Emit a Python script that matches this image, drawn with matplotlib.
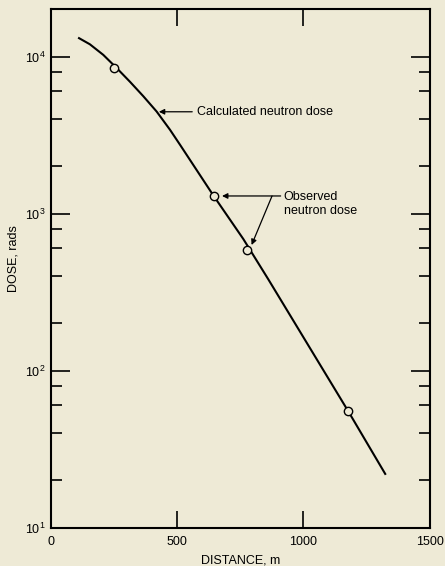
import matplotlib
matplotlib.use("Agg")
import matplotlib.pyplot as plt
from matplotlib.ticker import FixedLocator, FixedFormatter, NullFormatter

# calculated neutron dose curve
calc_distance = [112, 155, 208, 261, 314, 366, 419, 472, 512, 643, 762, 861,
                 1178, 1324]
calc_dose = [13100, 11970, 10250, 8450, 6900, 5600, 4470, 3420, 2740, 1310,
             690, 382, 55, 22]

# observed neutron dose points
obs_distance = [250, 645, 776, 1178]
obs_dose = [8400, 1295, 586, 55]

x_ticks = [0, 500, 1000, 1500]
x_tick_labels = ["0", "500", "1000", "1500"]
y_ticks = [10, 100, 1000, 10000]
y_tick_labels = ["$10^{1}$", "$10^{2}$", "$10^{3}$", "$10^{4}$"]
y_minor = [m * d for d in (10, 100, 1000) for m in (2, 4, 6, 8)]

bg = "#eeead6"
plt.rcParams["font.family"] = ["Liberation Sans", "DejaVu Sans"]
plt.rcParams["mathtext.default"] = "regular"

fig = plt.figure(figsize=(4.45, 5.66), dpi=100, facecolor=bg)
ax = fig.add_axes([0.114, 0.0677, 0.8516, 0.9159], facecolor=bg)

ax.plot(calc_distance, calc_dose, color="black", lw=1.5, zorder=2,
        solid_joinstyle="round")
ax.plot(obs_distance, obs_dose, "o", ms=6, mfc=bg, mec="black", mew=1.0,
        zorder=3)

ax.set_yscale("log")
ax.set_xlim(0, 1500)
ax.set_ylim(10, 20000)

ax.xaxis.set_major_locator(FixedLocator(x_ticks))
ax.xaxis.set_major_formatter(FixedFormatter(x_tick_labels))
ax.yaxis.set_major_locator(FixedLocator(y_ticks))
ax.yaxis.set_major_formatter(FixedFormatter(y_tick_labels))
ax.yaxis.set_minor_locator(FixedLocator(y_minor))
ax.yaxis.set_minor_formatter(NullFormatter())

ax.tick_params(axis="y", which="major", direction="in", length=14,
               width=1.2, left=True, right=True, labelsize=9, pad=4)
ax.tick_params(axis="y", which="minor", direction="in", length=8,
               width=1.2, left=True, right=True)
ax.tick_params(axis="x", which="major", direction="in", length=12,
               width=1.2, top=True, bottom=True, labelsize=9, pad=6)

for spine in ax.spines.values():
    spine.set_linewidth(1.5)

ax.set_xlabel("DISTANCE, m", fontsize=9, va="top")
ax.xaxis.set_label_coords(0.5, -0.052)
ax.set_ylabel("DOSE, rads", fontsize=9)
ax.yaxis.set_label_coords(-0.082, 0.52)

arrow = dict(arrowstyle="-|>", color="black", lw=0.9, mutation_scale=8,
             shrinkA=0, shrinkB=0)

ax.annotate("", xy=(428, 4450), xytext=(560, 4450), arrowprops=arrow)
ax.text(578, 4450, "Calculated neutron dose", fontsize=9, va="center")

ax.annotate("", xy=(678, 1295), xytext=(910, 1295), arrowprops=arrow)
ax.annotate("", xy=(795, 631), xytext=(876, 1295), arrowprops=arrow)
ax.text(922, 1150, "Observed\nneutron dose", fontsize=9, va="center",
        linespacing=1.25)

fig.savefig("out.png", dpi=100, facecolor=bg)
